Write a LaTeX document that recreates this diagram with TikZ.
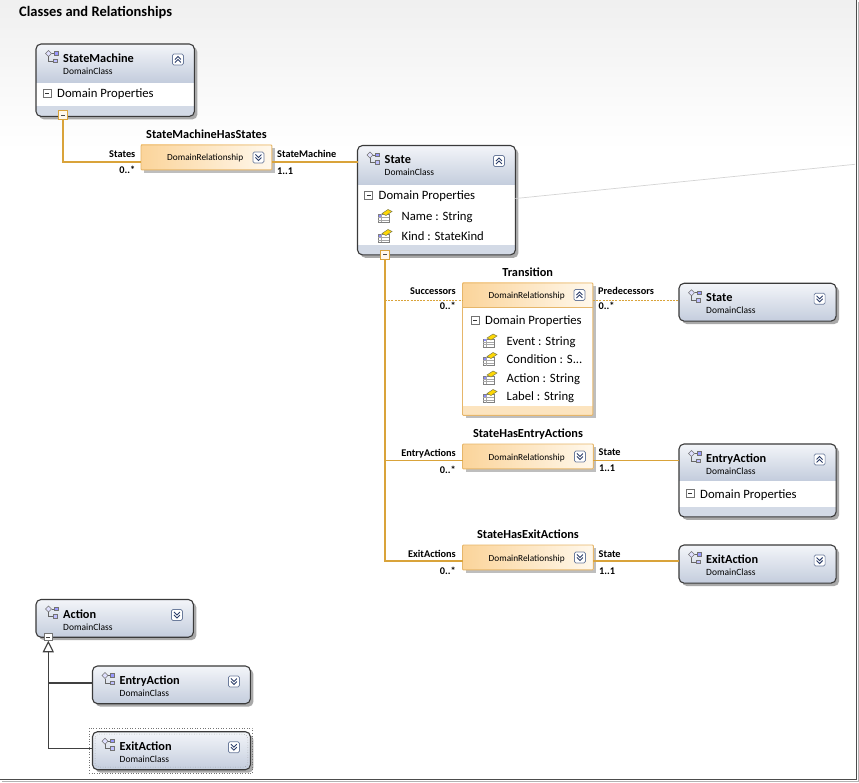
\documentclass[tikz,border=0pt]{standalone}
\usepackage{fontspec}
\setmainfont{Carlito}
\usetikzlibrary{calc}

\definecolor{bord}{HTML}{3A3A3A}
\definecolor{hdtop}{HTML}{F3F5F9}
\definecolor{hdbot}{HTML}{C4CDDD}
\definecolor{stripc}{HTML}{D3DAE6}
\definecolor{shad}{HTML}{A9A9A9}
\definecolor{connc}{HTML}{D9A33A}
\definecolor{relL}{HTML}{FBD49A}
\definecolor{relR}{HTML}{FFF8EC}
\definecolor{relB}{HTML}{E6B66A}
\definecolor{relstrip}{HTML}{FCE4BF}
\definecolor{btnB}{HTML}{6C7C9C}
\definecolor{chevc}{HTML}{2C3E6A}
\definecolor{inhc}{HTML}{404040}

\tikzset{
  chevup/.pic={
    \draw[btnB, fill=white, rounded corners=1.5pt, line width=0.7pt] (-5.5,-5.5) rectangle (5.5,5.5);
    \draw[chevc, line width=0.9pt] (-3,0) -- (0,-3) -- (3,0) (-3,3) -- (0,0) -- (3,3);
  },
  chevdown/.pic={
    \draw[btnB, fill=white, rounded corners=1.5pt, line width=0.7pt] (-5.5,-5.5) rectangle (5.5,5.5);
    \draw[chevc, line width=0.9pt] (-3,-3) -- (0,0) -- (3,-3) (-3,0) -- (0,3) -- (3,0);
  },
  clsicon/.pic={
    \draw[black!55, fill=blue!12, line width=0.5pt] (-6.5,-3) -- (-3.5,-6) -- (-0.5,-3) -- (-3.5,0) -- cycle;
    \draw[black!60, line width=0.6pt] (-3.5,0) -- (-3.5,4.5) -- (1.5,4.5);
    \draw[black!60, line width=0.6pt] (-0.5,-3) -- (2,-3);
    \draw[black!55, fill=blue!40, line width=0.5pt] (2,-5) rectangle (6,-1.5);
    \draw[black!55, fill=blue!25, line width=0.5pt] (1.5,2.5) rectangle (5.5,6);
  },
  propicon/.pic={
    \draw[black!50, fill=white, line width=0.5pt] (-7,-2) rectangle (4,6);
    \draw[black!35, line width=0.5pt] (-7,1) -- (4,1) (-7,3.5) -- (4,3.5) (-4,-2) -- (-4,6);
    \fill[blue!45] (-6.5,-1.5) rectangle (-4.5,0.5);
    \draw[yellow!45!black, fill=yellow!75!orange, line width=0.5pt] (-3,-3) -- (3,-7) -- (7,-5) -- (1,-1) -- cycle;
  },
  minusbox/.pic={
    \draw[black!55, fill=white, line width=0.6pt] (-4,-4) rectangle (4,4);
    \draw[black!80, line width=0.8pt] (-2,0) -- (2,0);
  },
  collbox/.pic={
    \draw[color=connc, fill=relR, line width=0.9pt] (-4.5,-4.5) rectangle (4.5,4.5);
    \draw[color=black!70, line width=0.9pt] (-2,0) -- (2,0);
  },
  graybox/.pic={
    \draw[black!55, fill=white, line width=0.7pt] (-4,-3.5) rectangle (4,3.5);
    \draw[black!75, line width=0.8pt] (-2,0) -- (2,0);
  }
}

% class box: #1 name, #2 x, #3 y, #4 w, #5 h, #6 header height (0 = whole box), #7 title, #8 button pic
\newcommand\clsbox[8]{%
  \node[inner sep=0pt, minimum width=#4pt, minimum height=#5pt, anchor=north west] (#1) at (#2,#3) {};
  \fill[shad, rounded corners=5pt] ([xshift=3pt,yshift=-3pt]#1.north west) rectangle ([xshift=3pt,yshift=-3pt]#1.south east);
  \begin{scope}
    \clip[rounded corners=5pt] (#1.north west) rectangle (#1.south east);
    \fill[white] (#1.north west) rectangle (#1.south east);
    \ifnum#6=0
      \shade[top color=hdtop, bottom color=hdbot] (#1.north west) rectangle (#1.south east);
    \else
      \shade[top color=hdtop, bottom color=hdbot] (#1.north west) rectangle ([yshift=-#6pt]#1.north east);
      \draw[hdbot, line width=0.6pt] ([yshift=-#6pt]#1.north west) -- ([yshift=-#6pt]#1.north east);
      \fill[stripc] ([yshift=10pt]#1.south west) rectangle (#1.south east);
    \fi
  \end{scope}
  \draw[color=bord, line width=1.1pt, rounded corners=5pt] (#1.north west) rectangle (#1.south east);
  \pic at ([xshift=16pt,yshift=-12.5pt]#1.north west) {clsicon};
  \node[fcname, anchor=base west] (#1-t) at ([xshift=27pt,yshift=-18.5pt]#1.north west) {#7};
  \node[fcsub, anchor=base west] (#1-s) at ([xshift=27pt,yshift=-30.5pt]#1.north west) {DomainClass};
  \pic at ([xshift=-16.5pt,yshift=-15.5pt]#1.north east) {#8};
}
% Domain Properties compartment line
\newcommand\dprop[1]{%
  \pic at ([xshift=11pt,yshift=-49.5pt]#1.north west) {minusbox};
  \node[fprop, anchor=base west] (#1-dp) at ([xshift=21pt,yshift=-54pt]#1.north west) {Domain Properties};
}
% property line: #1 box, #2 node name, #3 baseline offset, #4 text
\newcommand\propline[4]{%
  \pic at ([xshift=27.5pt,yshift=-#3pt+4pt]#1.north west) {propicon};
  \node[fprop, anchor=base west] (#2) at ([xshift=44pt,yshift=-#3pt]#1.north west) {#4};
}
% relationship box: #1 name, #2 x, #3 y, #4 title
\newcommand\relbox[4]{%
  \node[inner sep=0pt, minimum width=130.5pt, minimum height=24.5pt, anchor=north west] (#1) at (#2,#3) {};
  \fill[shad!75] ([xshift=3pt,yshift=-3pt]#1.north west) rectangle ([xshift=3pt,yshift=-3pt]#1.south east);
  \shade[left color=relL, right color=relR] (#1.north west) rectangle (#1.south east);
  \draw[color=relB, line width=0.9pt, rounded corners=1pt] (#1.north west) rectangle (#1.south east);
  \node[frel, anchor=base west] (#1-r) at ([xshift=26pt,yshift=-16pt]#1.north west) {DomainRelationship};
  \pic at ([xshift=-13.5pt,yshift=-12.5pt]#1.north east) {chevdown};
  \node[fcname, anchor=base] (#1-t) at ([yshift=6.5pt]#1.north) {#4};
}

\begin{document}
\begin{tikzpicture}[x=1pt,y=-1pt,
  fttl/.style={font=\fontsize{14.5}{16}\selectfont\bfseries, inner sep=0pt},
  fcname/.style={font=\fontsize{12.3}{14}\selectfont\bfseries, inner sep=0pt},
  fcsub/.style={font=\fontsize{9.5}{11}\selectfont, inner sep=0pt},
  fprop/.style={font=\fontsize{12.7}{15}\selectfont, inner sep=0pt},
  frel/.style={font=\fontsize{9.3}{11}\selectfont, inner sep=0pt},
  frole/.style={font=\fontsize{10.3}{12}\selectfont\bfseries, inner sep=0pt},
  connl/.style={color=connc, line width=1.5pt},
  dconn/.style={color=connc, line width=0.9pt, dash pattern=on 2pt off 1.2pt},
  inhl/.style={color=inhc, line width=1.4pt}
]
\useasboundingbox (0,0) rectangle (859,783);
\fill[white] (0,0) rectangle (859,783);
\shade[top color=black!6, bottom color=white] (0,0) rectangle (856,150);

% frame
\draw[color=black!30, line width=1.2pt] (858.2,2) -- (858.2,781.6) -- (2,781.6);
\draw[color=black!70, line width=1.2pt] (856.3,0) -- (856.3,779.6) -- (0,779.6);

\node[fttl, anchor=base west] (title) at (19,16.5) {Classes and Relationships};

% class boxes
\clsbox{sm}{36}{44}{158}{72}{38}{StateMachine}{chevup}
\dprop{sm}
\clsbox{st}{357.5}{145.5}{157.5}{109}{39}{State}{chevup}
\dprop{st}
\propline{st}{stn}{75}{Name : String}
\propline{st}{stk}{95}{Kind : StateKind}
\clsbox{st2}{679}{283.3}{156.7}{37.4}{0}{State}{chevdown}
\clsbox{ea}{679}{444}{156.7}{72.5}{36}{EntryAction}{chevup}
\dprop{ea}
\clsbox{xa}{679}{545}{156.7}{37.7}{0}{ExitAction}{chevdown}
\clsbox{ac}{36}{599.5}{157}{37.3}{0}{Action}{chevdown}
\clsbox{en2}{92.5}{666}{157.5}{37.3}{0}{EntryAction}{chevdown}
\clsbox{ex2}{92.5}{731.7}{157.5}{37.6}{0}{ExitAction}{chevdown}
% selection marks on ExitAction
\draw[color=black!55, line width=0.6pt, dotted] (89.3,728.3) rectangle (252.5,772.8);
\draw[color=black!45, line width=0.5pt, dotted, rounded corners=4pt] ([xshift=2.5pt,yshift=-2.5pt]ex2.north west) rectangle ([xshift=-2.5pt,yshift=2.5pt]ex2.south east);

% relationship boxes
\relbox{r1}{141}{145}{StateMachineHasStates}
\relbox{re}{462.5}{444}{StateHasEntryActions}
\relbox{rx}{462.5}{545}{StateHasExitActions}

% Transition (expanded relationship)
\node[inner sep=0pt, minimum width=130pt, minimum height=132pt, anchor=north west] (tr) at (462.5,283) {};
\fill[shad!75] ([xshift=3pt,yshift=-3pt]tr.north west) rectangle ([xshift=3pt,yshift=-3pt]tr.south east);
\fill[white] (tr.north west) rectangle (tr.south east);
\shade[left color=relL, right color=relR] (tr.north west) rectangle ([yshift=-24pt]tr.north east);
\draw[color=relB, line width=0.6pt] ([yshift=-24pt]tr.north west) -- ([yshift=-24pt]tr.north east);
\fill[relstrip] ([yshift=9pt]tr.south west) rectangle (tr.south east);
\draw[color=relB, line width=0.9pt, rounded corners=1pt] (tr.north west) rectangle (tr.south east);
\node[frel, anchor=base west] (tr-r) at ([xshift=26pt,yshift=-15.5pt]tr.north west) {DomainRelationship};
\pic at ([xshift=-13.5pt,yshift=-12pt]tr.north east) {chevup};
\node[fcname, anchor=base] (tr-t) at ([yshift=6pt]tr.north) {Transition};
\pic at ([xshift=12.5pt,yshift=-37.5pt]tr.north west) {minusbox};
\node[fprop, anchor=base west] (tr-dp) at ([xshift=22.5pt,yshift=-42pt]tr.north west) {Domain Properties};
\propline{tr}{tre}{62}{Event : String}
\propline{tr}{trc}{80.5}{Condition : S...}
\propline{tr}{tra}{99}{Action : String}
\propline{tr}{trl}{117.5}{Label : String}

% connector anchors
\coordinate (smc) at ([xshift=27pt,yshift=1pt]sm.south west);
\coordinate (stc) at ([xshift=27.5pt]st.south west);
\coordinate (acc) at ([xshift=12.3pt]ac.south west);
\coordinate (tw) at ([yshift=-17pt]tr.north west);
\coordinate (te) at ([yshift=-17pt]tr.north east);
\coordinate (r1w) at ([yshift=-4.5pt]r1.west);
\coordinate (r1e) at ([yshift=-4.5pt]r1.east);
\coordinate (rew) at ([yshift=-4pt]re.west);
\coordinate (ree) at ([yshift=-4pt]re.east);
\coordinate (rxw) at ([yshift=-3.5pt]rx.west);
\coordinate (rxe) at ([yshift=-3.5pt]rx.east);
\coordinate (inhtop) at ([yshift=-14.5pt]acc);
\coordinate (en2w) at ([yshift=2pt]en2.west);
\coordinate (ex2w) at ([yshift=2.5pt]ex2.west);
\coordinate (gnear) at ([yshift=-53pt]st.north east);
\coordinate (gfar) at (855,164.3);

% connectors
\draw[connl] (smc) |- (r1w);
\draw[connl] (r1e) -- (r1e -| st.west);
\draw[connl] (stc) |- (rxw);
\draw[connl] (stc |- rew) -- (rew);
\draw[connl] (ree) -- (ree -| ea.west);
\draw[connl] (rxe) -- (rxe -| xa.west);
\draw[dconn] (stc |- tw) -- (tw);
\draw[dconn] (te) -- (te -| st2.west);
\draw[color=black!17, line width=0.7pt] (gnear) -- (gfar);

% inheritance
\draw[inhl] (inhtop) |- (ex2w);
\draw[inhl] (inhtop |- en2w) -- (en2w);
\draw[color=inhc, fill=white, line width=1.1pt] ([xshift=-4.8pt]inhtop) -- ([yshift=-4.7pt]acc) -- ([xshift=4.8pt]inhtop) -- cycle;
\pic at (acc) {graybox};
\pic at (smc) {collbox};
\pic at (stc) {collbox};

% role labels
\node[frole, anchor=base east] (l1a) at (135.5,157.7) {States};
\node[frole, anchor=base east] (l1b) at (135.5,174) {0..*};
\node[frole, anchor=base west] (l1c) at (277,157.3) {StateMachine};
\node[frole, anchor=base west] (l1d) at (277,175) {1..1};

\node[frole, anchor=base east] (l2a) at (456,294.7) {Successors};
\node[frole, anchor=base east] (l2b) at (456,310) {0..*};
\node[frole, anchor=base west] (l2c) at (598,295) {Predecessors};
\node[frole, anchor=base west] (l2d) at (598.5,310) {0..*};

\node[frole, anchor=base east] (l3a) at (456,456.7) {EntryActions};
\node[frole, anchor=base east] (l3b) at (456,473.3) {0..*};
\node[frole, anchor=base west] (l3c) at (598.5,455.3) {State};
\node[frole, anchor=base west] (l3d) at (599,471.7) {1..1};

\node[frole, anchor=base east] (l4a) at (456,557.3) {ExitActions};
\node[frole, anchor=base east] (l4b) at (456,574) {0..*};
\node[frole, anchor=base west] (l4c) at (598.5,557) {State};
\node[frole, anchor=base west] (l4d) at (599,574) {1..1};
\end{tikzpicture}
\end{document}
